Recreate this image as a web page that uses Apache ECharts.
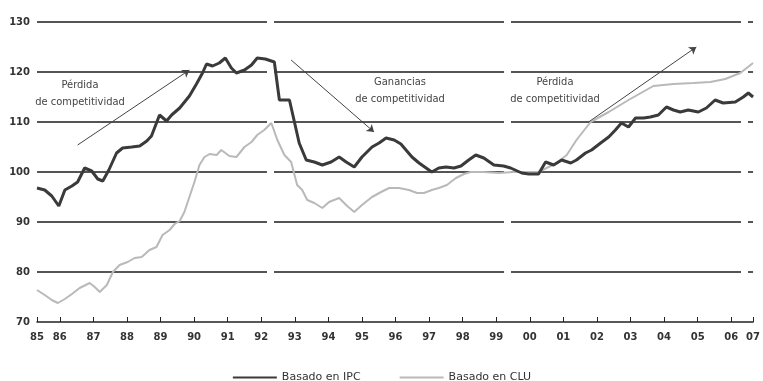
<!DOCTYPE html>
<html>
<head>
<meta charset="utf-8">
<script src="https://cdn.jsdelivr.net/npm/echarts@6/dist/echarts.min.js"></script>
<style>
  html, body { margin: 0; padding: 0; background: #fff; }
  #chart { width: 763px; height: 381px; }
</style>
</head>
<body>
<div id="chart"></div>
<script>
// tipo de cambio real, 1985-2007 (indice)
var ipcYears = [1985.32, 1985.55, 1985.76, 1985.97, 1986.15, 1986.36, 1986.53, 1986.74, 1986.95, 1987.13,
  1987.28, 1987.46, 1987.69, 1987.87, 1988.14, 1988.38, 1988.59, 1988.73, 1988.97, 1989.18,
  1989.33, 1989.57, 1989.86, 1990.07, 1990.25, 1990.37, 1990.55, 1990.75, 1990.93, 1991.11,
  1991.26, 1991.50, 1991.71, 1991.88, 1992.12, 1992.39, 1992.54, 1992.84, 1993.13, 1993.34,
  1993.58, 1993.82, 1994.08, 1994.32, 1994.53, 1994.77, 1995.00, 1995.30, 1995.51, 1995.72,
  1995.96, 1996.16, 1996.49, 1996.70, 1997.08, 1997.29, 1997.50, 1997.74, 1997.95, 1998.18,
  1998.39, 1998.63, 1998.93, 1999.22, 1999.43, 1999.76, 1999.97, 2000.26, 2000.47, 2000.71,
  2000.95, 2001.22, 2001.39, 2001.66, 2001.84, 2002.11, 2002.35, 2002.55, 2002.73, 2002.94,
  2003.15, 2003.39, 2003.59, 2003.83, 2004.07, 2004.28, 2004.48, 2004.72, 2005.02, 2005.26,
  2005.52, 2005.76, 2006.12, 2006.36, 2006.51, 2006.65];
var ipcValues = [96.8, 96.4, 95.2, 93.2, 96.4, 97.2, 98.0, 100.8, 100.2, 98.6,
  98.2, 100.4, 103.8, 104.8, 105.0, 105.2, 106.2, 107.2, 111.4, 110.2,
  111.4, 112.8, 115.2, 117.6, 119.8, 121.6, 121.2, 121.8, 122.8, 120.8,
  119.8, 120.4, 121.4, 122.8, 122.6, 122.0, 114.4, 114.4, 105.8, 102.4,
  102.0, 101.4, 102.0, 103.0, 102.0, 101.0, 103.0, 105.0, 105.8, 106.8,
  106.4, 105.6, 103.0, 101.8, 100.0, 100.8, 101.0, 100.8, 101.2, 102.4,
  103.4, 102.8, 101.4, 101.2, 100.8, 99.8, 99.6, 99.6, 102.0, 101.4,
  102.4, 101.8, 102.4, 103.8, 104.4, 105.8, 107.0, 108.4, 109.8, 109.0,
  110.8, 110.8, 111.0, 111.4, 113.0, 112.4, 112.0, 112.4, 112.0, 112.8,
  114.4, 113.8, 114.0, 115.0, 115.8, 115.0];

var cluYears = [1985.32, 1985.55, 1985.76, 1985.94, 1986.15, 1986.36, 1986.59, 1986.89, 1987.04, 1987.19,
  1987.40, 1987.58, 1987.78, 1988.02, 1988.23, 1988.44, 1988.67, 1988.88, 1989.06, 1989.27,
  1989.42, 1989.57, 1989.71, 1989.86, 1990.01, 1990.16, 1990.31, 1990.46, 1990.67, 1990.81,
  1991.05, 1991.26, 1991.50, 1991.71, 1991.88, 1992.09, 1992.30, 1992.48, 1992.69, 1992.89,
  1993.07, 1993.22, 1993.37, 1993.58, 1993.82, 1994.02, 1994.32, 1994.56, 1994.77, 1995.00,
  1995.30, 1995.57, 1995.81, 1996.10, 1996.40, 1996.64, 1996.85, 1997.08, 1997.29, 1997.53,
  1997.80, 1998.04, 1998.24, 1998.63, 1999.08, 1999.52, 1999.97, 2000.26, 2000.50, 2000.80,
  2001.10, 2001.39, 2001.81, 2002.35, 2002.94, 2003.68, 2004.28, 2004.87, 2005.38, 2005.82,
  2006.27, 2006.65];
var cluValues = [76.4, 75.4, 74.4, 73.8, 74.6, 75.6, 76.8, 77.8, 77.0, 76.0,
  77.4, 80.0, 81.4, 82.0, 82.8, 83.0, 84.4, 85.0, 87.4, 88.4,
  89.6, 90.2, 92.0, 95.0, 98.0, 101.4, 103.0, 103.6, 103.4, 104.4,
  103.2, 103.0, 105.0, 106.0, 107.4, 108.4, 109.8, 106.4, 103.4, 102.0,
  97.4, 96.4, 94.4, 93.8, 92.8, 94.0, 94.8, 93.2, 92.0, 93.4,
  95.0, 96.0, 96.8, 96.8, 96.4, 95.8, 95.8, 96.4, 96.8, 97.4,
  98.8, 99.6, 100.0, 100.0, 99.8, 100.0, 100.0, 100.0, 100.8, 101.8,
  103.4, 106.4, 110.0, 112.0, 114.4, 117.2, 117.6, 117.8, 118.0, 118.6,
  119.8, 121.8];

var xTickValues = [1985.32, 1986, 1987, 1988, 1989, 1990, 1991, 1992, 1993, 1994, 1995, 1996,
  1997, 1998, 1999, 2000, 2001, 2002, 2003, 2004, 2005, 2006, 2006.65];
var xTickLabels = ['85', '86', '87', '88', '89', '90', '91', '92', '93', '94', '95', '96',
  '97', '98', '99', '00', '01', '02', '03', '04', '05', '06', '07'];

function pairs(xs, ys) {
  return xs.map(function (x, i) { return [x, ys[i]]; });
}

var noteStyle = {
  align: 'center',
  fill: '#444',
  fontFamily: 'DejaVu Sans Condensed, Liberation Sans',
  fontSize: 11,
  lineHeight: 17
};

var chart = echarts.init(document.getElementById('chart'));
var option = {
  backgroundColor: '#fff',
  animation: false,
  grid: { left: 37, right: 8, top: 22, bottom: 59 },
  legend: {
    left: 'center',
    top: 367,
    itemWidth: 44,
    itemHeight: 10,
    itemGap: 38,
    itemStyle: { opacity: 0 },
    textStyle: { fontFamily: 'DejaVu Sans', fontSize: 11, color: '#333' },
    data: ['Basado en IPC', 'Basado en CLU']
  },
  xAxis: {
    type: 'value',
    min: 1985.32,
    max: 2006.65,
    splitLine: { show: false },
    axisLine: { lineStyle: { color: '#222', width: 1.5 } },
    axisTick: {
      inside: true,
      length: 5,
      customValues: xTickValues,
      lineStyle: { color: '#222', width: 1 }
    },
    axisLabel: {
      customValues: xTickValues,
      margin: 10,
      fontFamily: 'DejaVu Sans',
      fontSize: 10,
      fontWeight: 'bold',
      color: '#333',
      formatter: function (v) {
        var best = 0;
        for (var i = 1; i < xTickValues.length; i++) {
          if (Math.abs(xTickValues[i] - v) < Math.abs(xTickValues[best] - v)) best = i;
        }
        return xTickLabels[best];
      }
    }
  },
  yAxis: {
    type: 'value',
    min: 70,
    max: 130,
    interval: 10,
    axisLine: { show: false },
    axisTick: { show: false },
    axisLabel: {
      margin: 7,
      fontFamily: 'DejaVu Sans',
      fontSize: 10,
      fontWeight: 'bold',
      color: '#333'
    },
    splitLine: {
      lineStyle: {
        color: ['rgba(0,0,0,0)', '#555', '#555', '#555', '#555', '#555', '#555'],
        width: 2,
        type: [230, 7]
      }
    }
  },
  graphic: [
    { type: 'text', position: [80, 77], style: Object.assign({ text: 'Pérdida\nde competitividad' }, noteStyle) },
    { type: 'text', position: [400, 74], style: Object.assign({ text: 'Ganancias\nde competitividad' }, noteStyle) },
    { type: 'text', position: [555, 74], style: Object.assign({ text: 'Pérdida\nde competitividad' }, noteStyle) }
  ],
  series: [
    {
      name: 'Basado en CLU',
      type: 'line',
      symbol: 'none',
      data: pairs(cluYears, cluValues),
      lineStyle: { color: '#b9b9b9', width: 2 },
      itemStyle: { color: '#b9b9b9' }
    },
    {
      name: 'Basado en IPC',
      type: 'line',
      symbol: 'none',
      data: pairs(ipcYears, ipcValues),
      lineStyle: { color: '#3a3a3a', width: 3 },
      itemStyle: { color: '#3a3a3a' },
      markLine: {
        silent: true,
        symbol: ['none', 'arrow'],
        symbolSize: 7,
        label: { show: false },
        lineStyle: { color: '#444', width: 1, type: 'solid' },
        data: [
          [{ coord: [1986.53, 105.4] }, { coord: [1989.86, 120.4] }],
          [{ coord: [1992.89, 122.4] }, { coord: [1995.36, 108.0] }],
          [{ coord: [2001.75, 110.0] }, { coord: [2004.96, 125.0] }]
        ]
      }
    }
  ]
};
chart.setOption(option);
</script>
</body>
</html>
